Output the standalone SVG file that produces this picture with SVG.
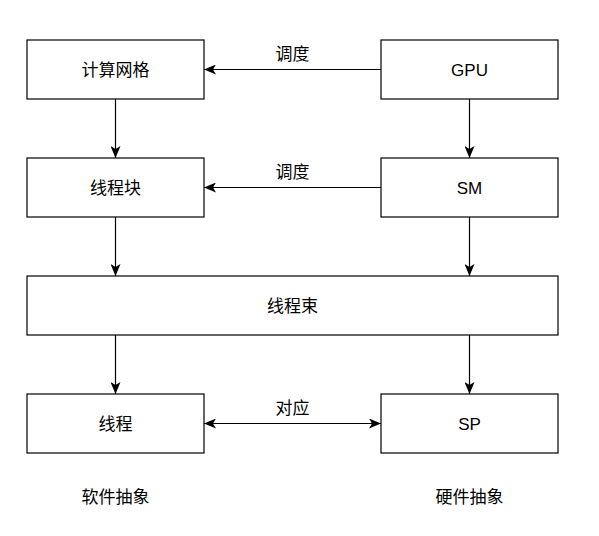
<svg xmlns="http://www.w3.org/2000/svg" width="599" height="536" viewBox="0 0 599 536">
<style>
.box{fill:#fff;stroke:#000;stroke-width:1.2}
.lbl{font-family:"Liberation Sans","Noto Sans CJK SC",sans-serif;font-size:17px;fill:#000;text-anchor:middle;dominant-baseline:central}
.edge{fill:none;stroke:#000;stroke-width:1.2}
</style>
<defs>
<marker id="arr" viewBox="0 0 12 10" refX="12" refY="5" markerWidth="12" markerHeight="10" markerUnits="userSpaceOnUse" orient="auto-start-reverse">
<path d="M0,0 L12,5 L0,10 L3,5 Z" fill="#000"/>
</marker>
</defs>
<rect width="599" height="536" fill="#fff"/>
<g id="edges">
<line class="edge" x1="381" y1="69.5" x2="204" y2="69.5" marker-end="url(#arr)"/>
<line class="edge" x1="381" y1="187.5" x2="204" y2="187.5" marker-end="url(#arr)"/>
<line class="edge" x1="115.5" y1="99" x2="115.5" y2="158" marker-end="url(#arr)"/>
<line class="edge" x1="469.5" y1="99" x2="469.5" y2="158" marker-end="url(#arr)"/>
<line class="edge" x1="115.5" y1="217" x2="115.5" y2="276" marker-end="url(#arr)"/>
<line class="edge" x1="469.5" y1="217" x2="469.5" y2="276" marker-end="url(#arr)"/>
<line class="edge" x1="115.5" y1="335" x2="115.5" y2="394" marker-end="url(#arr)"/>
<line class="edge" x1="469.5" y1="335" x2="469.5" y2="394" marker-end="url(#arr)"/>
<line class="edge" x1="204" y1="423.5" x2="381" y2="423.5" marker-start="url(#arr)" marker-end="url(#arr)"/>
<text class="lbl" x="292.5" y="54">调度</text>
<text class="lbl" x="292.5" y="172">调度</text>
<text class="lbl" x="292.5" y="408">对应</text>
</g>
<g id="grid"><rect class="box" x="27" y="40" width="177" height="59"/><text class="lbl" x="115.5" y="70">计算网格</text></g>
<g id="gpu"><rect class="box" x="381" y="40" width="177" height="59"/><text class="lbl" x="469.5" y="70">GPU</text></g>
<g id="block"><rect class="box" x="27" y="158" width="177" height="59"/><text class="lbl" x="115.5" y="188">线程块</text></g>
<g id="sm"><rect class="box" x="381" y="158" width="177" height="59"/><text class="lbl" x="469.5" y="188">SM</text></g>
<g id="warp"><rect class="box" x="27" y="276" width="531" height="59"/><text class="lbl" x="292.5" y="306">线程束</text></g>
<g id="thread"><rect class="box" x="27" y="394" width="177" height="59"/><text class="lbl" x="115.5" y="424">线程</text></g>
<g id="sp"><rect class="box" x="381" y="394" width="177" height="59"/><text class="lbl" x="469.5" y="424">SP</text></g>
<g id="sw"><text class="lbl" x="115.5" y="497">软件抽象</text></g>
<g id="hw"><text class="lbl" x="469.5" y="497">硬件抽象</text></g>
</svg>
